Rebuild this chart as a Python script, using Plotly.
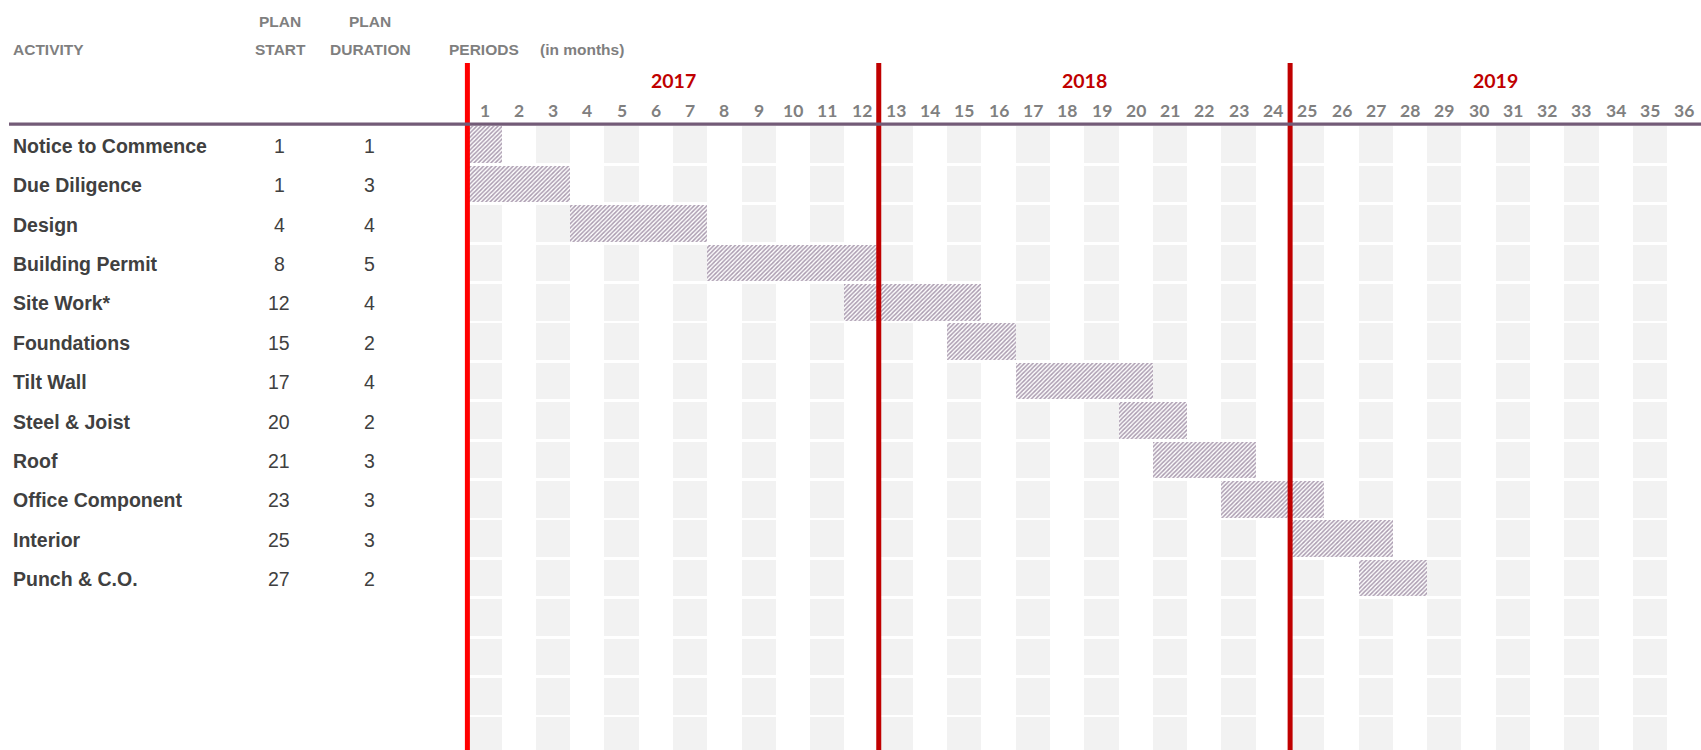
import plotly.graph_objects as go

# ---------------- data ----------------
activities = ["Notice to Commence", "Due Diligence", "Design", "Building Permit",
              "Site Work*", "Foundations", "Tilt Wall", "Steel & Joist", "Roof",
              "Office Component", "Interior", "Punch & C.O."]
plan_start = [1, 1, 4, 8, 12, 15, 17, 20, 21, 23, 25, 27]
plan_duration = [1, 3, 4, 5, 4, 2, 4, 2, 3, 3, 3, 2]
periods = [1, 2, 3, 4, 5, 6, 7, 8, 9, 10, 11, 12, 13, 14, 15, 16, 17, 18,
           19, 20, 21, 22, 23, 24, 25, 26, 27, 28, 29, 30, 31, 32, 33, 34, 35, 36]
years = ["2017", "2018", "2019"]
year_first_period = [1, 13, 25]
months_per_year = 12
grid_rows = 16

# ---------------- geometry / style ----------------
W, H = 1701, 750
X0_PX = 467.4          # left edge of period 1
COL_PX = 34.28
LEFT_PAD = 0.3         # extra axis room left of period 1 so the first line isn't clipped
ROW_TOP_PX = 124.6
ROW_PX = 39.4
BAR_H = 0.93

NARROW = "Liberation Sans Narrow, Arial Narrow, Liberation Sans, Arial, sans-serif"
CAL = "Lato, Carlito, Calibri, Open Sans, sans-serif"
HDR_COL = "#7F7F7F"
TXT_COL = "#404040"


def py(p):
    return 1 - p / H


def px(p):
    return p / W


x_lo = 0.5 - LEFT_PAD
x_hi = 0.5 + (W - X0_PX) / COL_PX
dom_left = X0_PX - LEFT_PAD * COL_PX
y_top = -0.5
y_bot = y_top + (H - ROW_TOP_PX) / ROW_PX

fig = go.Figure()

# grey alternating cells
cell_y, cell_base = [], []
for r in range(grid_rows):
    for p in periods:
        if p % 2 == 1:
            cell_y.append(r)
            cell_base.append(p - 0.5)
fig.add_trace(go.Bar(
    orientation="h", y=cell_y, x=[1] * len(cell_y), base=cell_base,
    width=BAR_H, marker=dict(color="#F2F2F2", line=dict(width=0)),
    hoverinfo="skip", showlegend=False))

# hatched activity bars
fig.add_trace(go.Bar(
    orientation="h", y=list(range(len(activities))), x=plan_duration,
    base=[s - 0.5 for s in plan_start], width=BAR_H,
    marker=dict(color="#FFFFFF", line=dict(width=0),
                pattern=dict(shape="/", fgcolor="#AB9CB0", bgcolor="#FFFFFF",
                             size=3, solidity=0.5, fillmode="replace")),
    text=activities, hoverinfo="text", textposition="none", showlegend=False))

# year separator lines
line_cols = ["#FF0000", "#C00000", "#C00000"]
for fp, c in zip(year_first_period, line_cols):
    fig.add_shape(type="line", xref="x", yref="paper", x0=fp - 0.5, x1=fp - 0.5,
                  y0=0, y1=py(63), line=dict(color=c, width=5), layer="above")

# header rule
fig.add_shape(type="line", xref="paper", yref="paper", x0=px(9), x1=1,
              y0=py(124.2), y1=py(124.2), line=dict(color="#735B77", width=3.3),
              layer="above")

ann = []


def add(text, x, y, xref="paper", xanchor="center", family=NARROW, size=15.5,
        color=HDR_COL, weight="bold"):
    ann.append(dict(text=text, x=x, y=y, xref=xref, yref="paper",
                    xanchor=xanchor, yanchor="middle", showarrow=False,
                    font=dict(family=family, size=size, color=color, weight=weight)))


add("ACTIVITY", px(10.5), py(49.5), xanchor="left")
add("PLAN", px(280), py(21))
add("START", px(280), py(49.5))
add("PLAN", px(370), py(21))
add("DURATION", px(370), py(49.5))
add("PERIODS", px(446.5), py(49.5), xanchor="left")
add("(in months)", px(582), py(49.5))

for y_lbl, fp in zip(years, year_first_period):
    add(y_lbl, fp - 1 + (months_per_year + 1) / 2, py(80), xref="x",
        family=CAL, size=19.5, color="#C00000")

for p in periods:
    add(str(p), p, py(110.5), xref="x", family=CAL, size=17.5, color="#808080")

for i, (a, s, d) in enumerate(zip(activities, plan_start, plan_duration)):
    yc = py(ROW_TOP_PX + ROW_PX * (i + 0.5) + 1.5)
    add(a, px(11), yc, xanchor="left", size=19.5, color=TXT_COL)
    add(str(s), px(279), yc, size=19.5, color=TXT_COL, weight="normal")
    add(str(d), px(369.5), yc, size=19.5, color=TXT_COL, weight="normal")

fig.update_layout(
    width=W, height=H, autosize=False,
    margin=dict(l=0, r=0, t=0, b=0),
    paper_bgcolor="#FFFFFF", plot_bgcolor="#FFFFFF",
    barmode="overlay", bargap=0, showlegend=False,
    annotations=ann,
    xaxis=dict(domain=[px(dom_left), 1], range=[x_lo, x_hi], showgrid=False,
               zeroline=False, showticklabels=False, ticks="", fixedrange=True),
    yaxis=dict(domain=[0, py(ROW_TOP_PX)], range=[y_bot, y_top], showgrid=False,
               zeroline=False, showticklabels=False, ticks="", fixedrange=True),
)

fig.write_html(
    "out.html",
    config={"displayModeBar": False},
    post_script="document.body.style.margin='0';document.body.style.overflow='hidden';",
)
